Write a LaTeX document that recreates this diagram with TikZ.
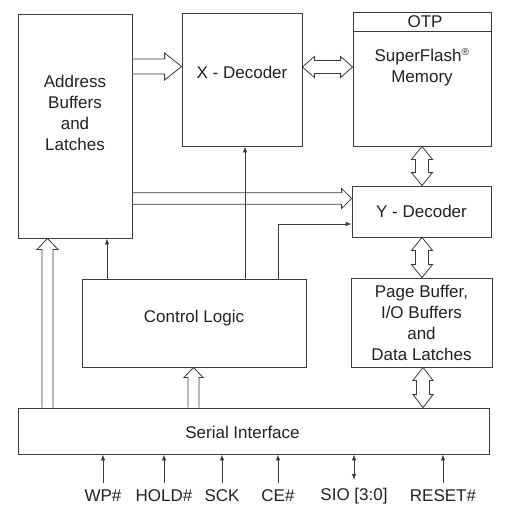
\documentclass[tikz,border=0pt]{standalone}
\usepackage{fontspec}
\setmainfont{Liberation Sans}
\usetikzlibrary{arrows.meta,calc}
\definecolor{linec}{HTML}{3C3C3C}
\definecolor{textc}{HTML}{222222}
\newcommand\fsz{\fontsize{17}{21}\selectfont}
\tikzset{
  box/.style={draw=linec, line width=0.8pt, rectangle, inner sep=0pt, font=\fsz, text=textc},
  hollow/.style={draw=linec, line width=0.8pt, line join=miter},
  arr/.style={draw=linec, line width=0.8pt, -{Latex[length=6pt,width=4.5pt]}},
  darr/.style={draw=linec, line width=0.8pt, {Latex[length=6pt,width=4.5pt]}-{Latex[length=6pt,width=4.5pt]}},
  pin/.style={inner sep=0pt, font=\fsz, text=textc},
}
% hollow arrow pointing right
\newcommand\hollowR[5]{\draw[hollow] let \p1=#1, \p2=#2 in
  (\x1,\y1+#3) -- (\x2-#5,\y1+#3) -- (\x2-#5,\y1+#4) -- (\x2,\y1) -- (\x2-#5,\y1-#4) -- (\x2-#5,\y1-#3) -- (\x1,\y1-#3);}
% hollow arrow pointing up
\newcommand\hollowU[5]{\draw[hollow] let \p1=#1, \p2=#2 in
  (\x1-#3,\y1) -- (\x1-#3,\y2-#5) -- (\x1-#4,\y2-#5) -- (\x1,\y2) -- (\x1+#4,\y2-#5) -- (\x1+#3,\y2-#5) -- (\x1+#3,\y1);}
% hollow double arrow horizontal
\newcommand\hollowLR[5]{\draw[hollow] let \p1=#1, \p2=#2 in
  (\x1,\y1) -- (\x1+#5,\y1+#4) -- (\x1+#5,\y1+#3) -- (\x2-#5,\y1+#3) -- (\x2-#5,\y1+#4) -- (\x2,\y1)
  -- (\x2-#5,\y1-#4) -- (\x2-#5,\y1-#3) -- (\x1+#5,\y1-#3) -- (\x1+#5,\y1-#4) -- cycle;}
% hollow double arrow vertical (first point top)
\newcommand\hollowUD[5]{\draw[hollow] let \p1=#1, \p2=#2 in
  (\x1,\y1) -- (\x1-#4,\y1-#5) -- (\x1-#3,\y1-#5) -- (\x1-#3,\y2+#5) -- (\x1-#4,\y2+#5) -- (\x1,\y2)
  -- (\x1+#4,\y2+#5) -- (\x1+#3,\y2+#5) -- (\x1+#3,\y1-#5) -- (\x1+#4,\y1-#5) -- cycle;}
\begin{document}
\begin{tikzpicture}[x=1pt,y=-1pt]
\useasboundingbox (0,0) rectangle (517,512);
\fill[white] (0,0) rectangle (517,512);
% blocks
\node[box, minimum width=114pt, minimum height=224pt,
  label={[pin,align=center,yshift=13pt]center:Address\\Buffers\\and\\Latches}] (addr) at (75,126) {};
\node[box, minimum width=120pt, minimum height=133pt,
  label={[pin,yshift=7.5pt]center:X - Decoder}] (xdec) at (242,79.5) {};
\node[box, minimum width=138pt, minimum height=19pt,
  label={[pin,xshift=3pt]center:OTP}] (otp) at (422,21.5) {};
\node[box, minimum width=138pt, minimum height=115pt,
  label={[pin,align=center,yshift=21pt]center:SuperFlash\textsuperscript{\fontsize{10}{10}\selectfont ®}\\Memory}] (mem) at (422,88.5) {};
\node[box, minimum width=139pt, minimum height=51pt] (ydec) at (421.5,211.5) {Y - Decoder};
\node[box, minimum width=141pt, minimum height=89pt, align=center] (page) at (421.5,322.5)
  {Page Buffer,\\I/O Buffers\\and\\Data Latches};
\node[box, minimum width=224pt, minimum height=88pt,
  label={[pin,yshift=5pt]center:Control Logic}] (ctrl) at (194,323) {};
\node[box, minimum width=471pt, minimum height=46pt,
  label={[pin,xshift=-11pt,yshift=-1pt]center:Serial Interface}] (serial) at (253.5,431) {};
% pins
\node[pin] (wp) at (103,496) {WP\#};
\node[pin] (hold) at (164,496) {HOLD\#};
\node[pin] (sck) at (222,496) {SCK};
\node[pin] (ce) at (278,496) {CE\#};
\node[pin] (sio) at (354,496) {SIO [3:0]};
\node[pin] (reset) at (443,496) {RESET\#};
% hollow arrows
\hollowR{(addr.east |- 0,66.5)}{(xdec.west |- 0,66.5)}{7.5}{13.5}{17}
\hollowR{(addr.east |- 0,198.5)}{(ydec.west |- 0,198.5)}{5.7}{10}{10}
\hollowLR{(xdec.east |- 0,67)}{(mem.west |- 0,67)}{6.5}{10.5}{12}
\hollowUD{(mem.south -| 422,0)}{(ydec.north -| 422,0)}{6.5}{10.5}{13}
\hollowUD{(ydec.south -| 422,0)}{(page.north -| 422,0)}{6.5}{10.5}{13}
\hollowUD{(page.south -| 423,0)}{(serial.north -| 423,0)}{6.5}{10}{13}
\hollowU{(serial.north -| 47.5,0)}{(addr.south -| 47.5,0)}{5.5}{10.5}{11}
\hollowU{(serial.north -| 193.5,0)}{(ctrl.south -| 193.5,0)}{5.5}{9.5}{10}
% thin arrows from control logic
\draw[arr] (ctrl.north -| 107,0) -- (addr.south -| 107,0);
\draw[arr] (ctrl.north -| 245,0) -- (xdec.south -| 245,0);
\draw[arr] (ctrl.north -| 278,0) |- (ydec.west |- 0,224);
% input pins
\draw[arr] ([yshift=7pt]wp.north) -- (wp.north |- serial.south);
\draw[arr] ([yshift=7pt]hold.north) -- (hold.north |- serial.south);
\draw[arr] ([yshift=7pt]sck.north) -- (sck.north |- serial.south);
\draw[arr] ([yshift=7pt]ce.north) -- (ce.north |- serial.south);
\draw[darr] ([yshift=8pt]sio.north) -- (sio.north |- serial.south);
\draw[arr] ([yshift=7pt]reset.north) -- (reset.north |- serial.south);
\end{tikzpicture}
\end{document}
